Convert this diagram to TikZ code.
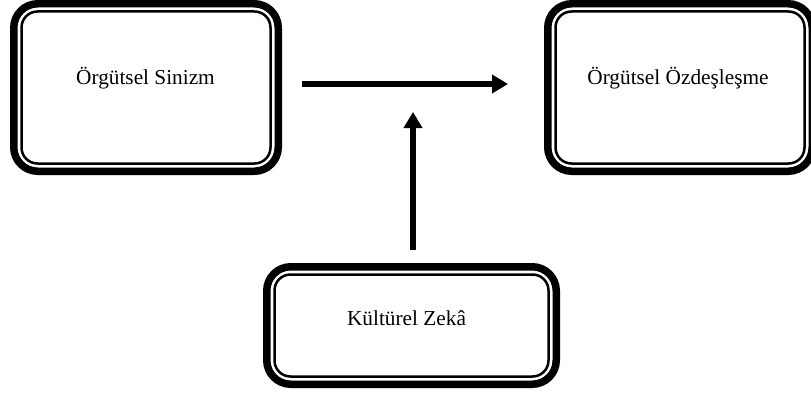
\documentclass[tikz,border=0pt]{standalone}
\usepackage{fontspec}
\setmainfont{Liberation Serif}
\usetikzlibrary{arrows.meta}
\newcommand\drawframe[1]{%
  \draw[outerframe] ([shift={(3.75,-3.75)}]#1.north west) rectangle ([shift={(-3.75,3.75)}]#1.south east);
  \draw[innerframe] ([shift={(11.5,-11.5)}]#1.north west) rectangle ([shift={(-11.5,11.5)}]#1.south east);}
\begin{document}
\begin{tikzpicture}[x=1pt,y=1pt,
  boxarea/.style={draw=none, inner sep=0pt, outer sep=0pt},
  outerframe/.style={line width=7.5pt, rounded corners=24pt},
  innerframe/.style={line width=2.5pt, rounded corners=16pt},
  boxtext/.style={anchor=base, inner sep=0pt, font=\fontsize{21.3}{25}\selectfont},
  arr/.style={line width=6.5pt, -{Triangle[length=16pt,width=18pt]}}]
\useasboundingbox (0,0) rectangle (811,392);
\node[boxarea, minimum width=272pt, minimum height=175pt] (b1) at (146,304.5) {};
\node[boxarea, minimum width=272pt, minimum height=175pt] (b2) at (680,304.5) {};
\node[boxarea, minimum width=297pt, minimum height=125pt] (b3) at (411.5,66.5) {};
\drawframe{b1}
\drawframe{b2}
\drawframe{b3}
\node[boxtext] (t1) at (145.5,308) {Örgütsel Sinizm};
\node[boxtext] (t2) at (678,308) {Örgütsel Özdeşleşme};
\node[boxtext] (t3) at (406.5,67) {Kültürel Zekâ};
\coordinate (vtip) at (413,280);
\draw[arr] ([xshift=20pt,yshift=3.5pt]b1.east) -- ([xshift=-36pt,yshift=3.5pt]b2.west);
\draw[arr] ([xshift=1.5pt,yshift=13pt]b3.north) -- (vtip);
\end{tikzpicture}
\end{document}
